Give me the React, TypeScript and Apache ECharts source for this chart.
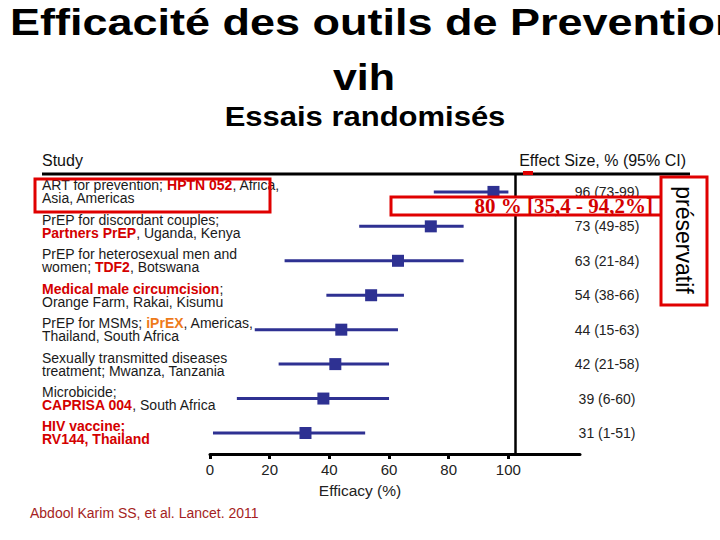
import React, { useEffect, useRef } from "react";
import * as echarts from "echarts";

const FONT = '"Liberation Sans", Arial, Helvetica, sans-serif';

// Study labels (rich markup: r = red bold, o = orange bold)
const studyLabels: string[] = [
  "ART for prevention; {r|HPTN 052}, Africa,\nAsia, Americas",
  "PrEP for discordant couples;\n{r|Partners PrEP}, Uganda, Kenya",
  "PrEP for heterosexual men and\nwomen; {r|TDF2}, Botswana",
  "{r|Medical male circumcision};\nOrange Farm, Rakai, Kisumu",
  "PrEP for MSMs; {o|iPrEX}, Americas,\nThailand, South Africa",
  "Sexually transmitted diseases\ntreatment; Mwanza, Tanzania",
  "Microbicide;\n{r|CAPRISA 004}, South Africa",
  "{r|HIV vaccine;}\n{r|RV144, Thailand}",
];

const effectLabels: string[] = [
  "96 (73-99)",
  "73 (49-85)",
  "63 (21-84)",
  "54 (38-66)",
  "44 (15-63)",
  "42 (21-58)",
  "39 (6-60)",
  "31 (1-51)",
];

// values as drawn in the picture
const estimates: number[] = [95, 74, 63, 54, 44, 42, 38, 32];
const lowerCI: number[] = [75, 50, 25, 39, 15, 23, 9, 1];
const upperCI: number[] = [100, 85, 85, 65, 63, 60, 60, 52];

const xTicks: number[] = [0, 20, 40, 60, 80, 100];
const rowIndex: number[] = [0, 1, 2, 3, 4, 5, 6, 7];
const separatorValue = 102.3;

const BLUE = "#2e3192";
const RED = "#d40000";
const BOX_RED = "#e00000";

export default function App() {
  const ref = useRef<HTMLDivElement>(null);

  useEffect(() => {
    const chart = echarts.init(ref.current!, null, { renderer: "svg" });

    const ciData = rowIndex.map((i) => [lowerCI[i], upperCI[i], i]);
    const pointData = rowIndex.map((i) => [estimates[i], i]);

    const yBase = {
      type: "value",
      min: -0.52,
      max: 7.61,
      inverse: true,
      axisLine: { show: false },
      axisTick: { show: false },
      splitLine: { show: false },
    };

    const richStyle = (color: string) => ({
      color,
      fontWeight: "bold",
      fontSize: 14,
      lineHeight: 13,
      fontFamily: FONT,
    });

    const option: any = {
      animation: false,
      backgroundColor: "#ffffff",
      grid: { left: 210, right: 140, top: 174, bottom: 86 },
      xAxis: {
        type: "value",
        min: 0,
        max: 124,
        axisLine: {
          show: true,
          onZero: false,
          lineStyle: { color: "#000", width: 3 },
        },
        axisTick: {
          show: true,
          customValues: xTicks,
          length: 5,
          lineStyle: { color: "#000", width: 3 },
        },
        axisLabel: {
          customValues: xTicks,
          color: "#222",
          fontSize: 15,
          margin: 8,
          fontFamily: FONT,
        },
        splitLine: { show: false },
      },
      yAxis: [
        {
          ...yBase,
          position: "left",
          axisLabel: {
            customValues: rowIndex,
            formatter: (v: number) => studyLabels[Math.round(v)] ?? "",
            align: "left",
            margin: 168,
            fontSize: 14,
            lineHeight: 13,
            color: "#1a1a1a",
            fontFamily: FONT,
            rich: {
              r: richStyle(RED),
              o: richStyle("#ee7a1a"),
            },
          },
        },
        {
          ...yBase,
          position: "right",
          axisLabel: {
            customValues: rowIndex,
            formatter: (v: number) => effectLabels[Math.round(v)] ?? "",
            align: "center",
            margin: 27,
            fontSize: 14,
            color: "#222",
            fontFamily: FONT,
          },
        },
      ],
      series: [
        {
          type: "custom",
          yAxisIndex: 0,
          data: ciData,
          encode: { x: [0, 1], y: 2 },
          renderItem: (params: any, api: any) => {
            const a = api.coord([api.value(0), api.value(2)]);
            const b = api.coord([api.value(1), api.value(2)]);
            return {
              type: "line",
              shape: { x1: a[0], y1: a[1], x2: b[0], y2: b[1] },
              style: { stroke: BLUE, lineWidth: 3 },
            };
          },
          z: 2,
        },
        {
          type: "scatter",
          yAxisIndex: 0,
          data: pointData,
          symbol: "rect",
          symbolSize: 12,
          itemStyle: { color: BLUE, opacity: 1 },
          z: 3,
          markLine: {
            silent: true,
            symbol: "none",
            label: { show: false },
            lineStyle: { color: "#000", width: 2.5, type: "solid" },
            data: [{ xAxis: separatorValue }],
          },
        },
      ],
      graphic: [
        {
          type: "text",
          x: 10,
          y: 22,
          scaleY: 0.84,
          z: 10,
          style: {
            text: "Efficacité des outils de Prevention",
            fontSize: 45,
            fontWeight: "bold",
            fontFamily: FONT,
            fill: "#000",
            align: "left",
            verticalAlign: "middle",
          },
        },
        {
          type: "text",
          x: 364,
          y: 77,
          scaleY: 0.88,
          z: 10,
          style: {
            text: "vih",
            fontSize: 43,
            fontWeight: "bold",
            fontFamily: FONT,
            fill: "#000",
            align: "center",
            verticalAlign: "middle",
          },
        },
        {
          type: "text",
          x: 365,
          y: 116,
          scaleY: 0.92,
          z: 10,
          style: {
            text: "Essais randomisés",
            fontSize: 31,
            fontWeight: "bold",
            fontFamily: FONT,
            fill: "#000",
            align: "center",
            verticalAlign: "middle",
          },
        },
        {
          type: "text",
          x: 42,
          y: 160,
          z: 10,
          style: {
            text: "Study",
            fontSize: 16,
            fontFamily: FONT,
            fill: "#111",
            align: "left",
            verticalAlign: "middle",
          },
        },
        {
          type: "text",
          x: 686,
          y: 160,
          z: 10,
          style: {
            text: "Effect Size, % (95% CI)",
            fontSize: 16,
            fontFamily: FONT,
            fill: "#111",
            align: "right",
            verticalAlign: "middle",
          },
        },
        {
          type: "line",
          z: 10,
          shape: { x1: 42, y1: 174, x2: 690, y2: 174 },
          style: { stroke: "#000", lineWidth: 3 },
        },
        {
          type: "rect",
          z: 11,
          shape: { x: 523, y: 171, width: 10, height: 4 },
          style: { fill: BOX_RED },
        },
        {
          type: "rect",
          z: 10,
          shape: { x: 35, y: 179, width: 235, height: 33 },
          style: { fill: "none", stroke: BOX_RED, lineWidth: 3 },
        },
        {
          type: "rect",
          z: 10,
          shape: { x: 391, y: 197, width: 274, height: 18 },
          style: { fill: "#fff", stroke: BOX_RED, lineWidth: 3 },
        },
        {
          type: "text",
          x: 653,
          y: 206,
          z: 12,
          style: {
            text: "80 % [35,4 - 94,2%]",
            fontSize: 21,
            fontWeight: "bold",
            fontFamily: '"Liberation Serif", "Times New Roman", serif',
            fill: RED,
            align: "right",
            verticalAlign: "middle",
          },
        },
        {
          type: "rect",
          z: 10,
          shape: { x: 661, y: 177, width: 46, height: 128 },
          style: { fill: "#fff", stroke: BOX_RED, lineWidth: 3 },
        },
        {
          type: "text",
          x: 684,
          y: 240,
          rotation: -Math.PI / 2,
          z: 12,
          style: {
            text: "préservatif",
            fontSize: 23,
            fontFamily: FONT,
            fill: "#000",
            align: "center",
            verticalAlign: "middle",
          },
        },
        {
          type: "text",
          x: 360,
          y: 490,
          z: 10,
          style: {
            text: "Efficacy (%)",
            fontSize: 15.5,
            fontFamily: FONT,
            fill: "#222",
            align: "center",
            verticalAlign: "middle",
          },
        },
        {
          type: "text",
          x: 30,
          y: 513,
          z: 10,
          style: {
            text: "Abdool Karim SS, et al. Lancet. 2011",
            fontSize: 14,
            fontFamily: FONT,
            fill: "#a51e22",
            align: "left",
            verticalAlign: "middle",
          },
        },
      ],
    };

    chart.setOption(option);
    return () => chart.dispose();
  }, []);

  return (
    <div
      ref={ref}
      style={{
        position: "absolute",
        left: 0,
        top: 0,
        width: 720,
        height: 540,
        background: "#fff",
      }}
    />
  );
}
